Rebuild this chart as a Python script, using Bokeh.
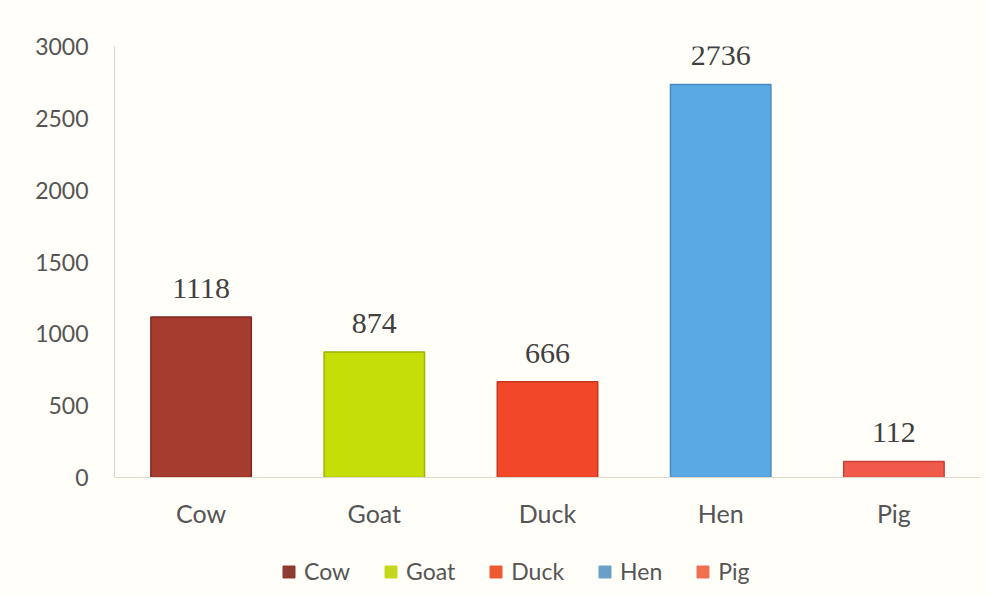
from bokeh.plotting import figure
from bokeh.layouts import column
from bokeh.models import ColumnDataSource, Legend, LegendItem, Range1d, FixedTicker, LabelSet
from bokeh.core.properties import value
from bokeh.embed import file_html
from bokeh.resources import INLINE

categories = ["Cow", "Goat", "Duck", "Hen", "Pig"]
counts = [1118, 874, 666, 2736, 112]
colors = ["#a63c2f", "#c5df06", "#f2482a", "#5aa9e2", "#f05a4a"]
outline = ["#7e2a22", "#9fb300", "#c8351c", "#4a8cc0", "#c8403a"]
legend_colors = ["#8e3b33", "#c3d81c", "#ee5a32", "#6aa0c8", "#f07050"]
y_ticks = [0, 500, 1000, 1500, 2000, 2500, 3000]

BG = "#fffef9"
src = ColumnDataSource(dict(cat=categories, val=counts, col=colors, oc=outline,
                            lab=[str(v) for v in counts]))

p = figure(x_range=categories, width=988, height=538, output_backend="svg",
           toolbar_location=None, background_fill_color=BG, border_fill_color=BG)
p.y_range = Range1d(0, 3000)
p.min_border_left = 114
p.min_border_right = 8
p.min_border_top = 46
p.min_border_bottom = 61

p.vbar(x="cat", top="val", width=0.58, source=src, fill_color="col",
       line_color="oc", line_width=1.5)

labels = LabelSet(x="cat", y="val", text="lab", source=src, text_align="center",
                  text_baseline="alphabetic", y_offset=19,
                  text_font=value("Liberation Serif"),
                  text_font_size="30px", text_color="#404040")
p.add_layout(labels)

p.xgrid.grid_line_color = None
p.ygrid.grid_line_color = None
p.outline_line_color = None

p.yaxis.ticker = FixedTicker(ticks=y_ticks)
p.yaxis.axis_line_color = "#d8d8d8"
p.yaxis.major_tick_line_color = None
p.yaxis.minor_tick_line_color = None
p.yaxis.major_label_text_font = "Lato"
p.yaxis.major_label_text_font_size = "23px"
p.yaxis.major_label_text_color = "#555555"
p.yaxis.major_label_standoff = 20

p.xaxis.axis_line_color = "#e0d8c8"
p.xaxis.major_tick_line_color = None
p.xaxis.major_label_text_font = "Lato"
p.xaxis.major_label_text_font_size = "25px"
p.xaxis.major_label_text_color = "#555555"
p.xaxis.major_label_standoff = 14

# legend panel
q = figure(x_range=categories, y_range=Range1d(0, 1), width=988, height=56,
           output_backend="svg", toolbar_location=None,
           x_axis_location=None, y_axis_location=None,
           background_fill_color=BG, border_fill_color=BG)
q.min_border = 0
q.grid.grid_line_color = None
q.outline_line_color = None

items = []
for i, c in enumerate(categories):
    g = q.vbar(x=[c], top=[-1], bottom=[-2], width=0.1,
               fill_color=legend_colors[i], line_color=legend_colors[i])
    items.append(LegendItem(label=c, renderers=[g]))

legend = Legend(items=items, orientation="horizontal", location=(167, 9),
                label_text_font="Lato", label_text_font_size="23px",
                label_text_color="#555555", border_line_color=None,
                background_fill_alpha=0, glyph_width=15, glyph_height=15,
                spacing=33, label_standoff=8, margin=0, padding=6)
q.add_layout(legend, "center")

layout = column(p, q, spacing=0)
open("out.html", "w").write(file_html(layout, INLINE))
